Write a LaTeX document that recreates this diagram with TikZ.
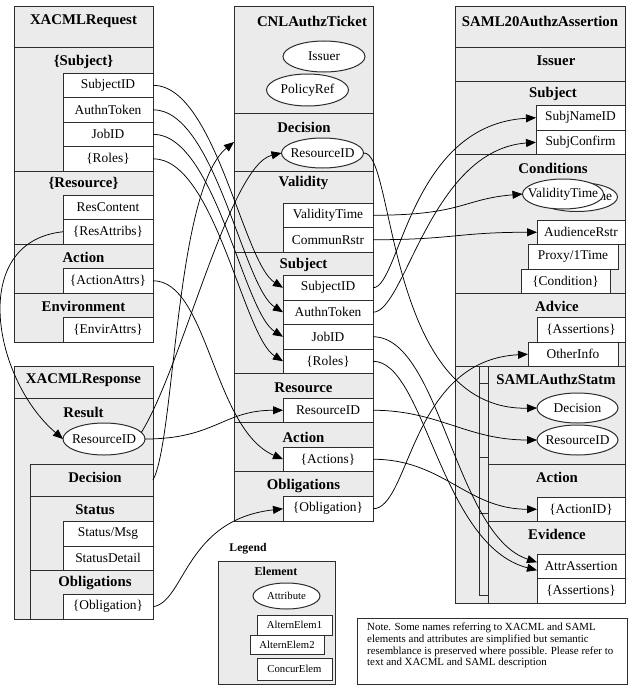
\documentclass[tikz,border=0pt]{standalone}
\usepackage{fontspec}
\setmainfont{Liberation Serif}
\usetikzlibrary{shapes.geometric,arrows.meta}
\definecolor{secgray}{RGB}{235,235,235}
\definecolor{edge}{RGB}{45,45,45}
\newcommand{\attrsize}{\fontsize{13.4}{15}\selectfont}
\newcommand{\hdrsize}{\bfseries\fontsize{14.8}{17}\selectfont}
\newcommand{\legsize}{\fontsize{10.7}{12}\selectfont}
\newcommand{\notesize}{\fontsize{10.9}{11.6}\selectfont}

\begin{document}
\begin{tikzpicture}[x=1pt, y=-1pt,
    sect/.style={rectangle, draw=edge, fill=secgray, line width=1pt, inner sep=0pt, outer sep=0pt, anchor=north west},
    hdr/.style={font=\hdrsize, inner sep=0pt},
    attr/.style={rectangle, draw=edge, fill=white, line width=1pt, minimum width=90pt, minimum height=24.5pt, inner sep=0pt, outer sep=0pt, anchor=north west, font=\attrsize},
    attrell/.style={ellipse, draw=edge, fill=white, line width=1pt, minimum width=82pt, minimum height=31pt, inner xsep=-9pt, inner ysep=0pt, outer sep=0pt, font=\attrsize},
    link/.style={-{Triangle[length=10pt,width=8pt]}, line width=0.75pt}]
  \useasboundingbox (0,0) rectangle (631,693);
  \fill[white] (0,0) rectangle (631,693);

  % XACMLRequest
  \node[sect, minimum width=139pt, minimum height=41pt] (reqtop) at (14,7) {};
  \node[hdr] (reqttl) at (83.5,21) {XACMLRequest};
  \node[sect, minimum width=139pt, minimum height=123pt] (reqsubj) at (14,48) {};
  \node[hdr] (reqsubjhd) at (83.5,62) {\{Subject\}};
  \node[attr] (reqsid) at (63,73) {SubjectID};
  \node[attr] (reqauth) at (63,97.5) {AuthnToken};
  \node[attr] (reqjob) at (63,122) {JobID};
  \node[attr] (reqroles) at (63,146.5) {\{Roles\}};
  \node[sect, minimum width=139pt, minimum height=73pt] (reqres) at (14,171) {};
  \node[hdr] (reqreshd) at (83.5,183) {\{Resource\}};
  \node[attr] (reqrescont) at (63,195) {ResContent};
  \node[attr] (reqresattr) at (63,219.5) {\{ResAttribs\}};
  \node[sect, minimum width=139pt, minimum height=49pt] (reqact) at (14,244) {};
  \node[hdr] (reqacthd) at (83.5,257) {Action};
  \node[attr] (reqactattr) at (63,268.5) {\{ActionAttrs\}};
  \node[sect, minimum width=139pt, minimum height=49pt] (reqenv) at (14,293) {};
  \node[hdr] (reqenvhd) at (83.5,306) {Environment};
  \node[attr] (reqenvattr) at (63,317.5) {\{EnvirAttrs\}};

  % XACMLResponse
  \node[sect, minimum width=139pt, minimum height=32pt] (rsptop) at (14,366) {};
  \node[hdr] (rspttl) at (83.5,380) {XACMLResponse};
  \node[sect, minimum width=139pt, minimum height=221pt] (rspres) at (14,398) {};
  \node[hdr] (rspreshd) at (83.5,412) {Result};
  \node[attrell, minimum height=32pt] (rspresid) at (104,439) {ResourceID};
  \node[sect, minimum width=123pt, minimum height=32pt] (rspdec) at (30,464) {};
  \node[hdr] (rspdechd) at (95,477) {Decision};
  \node[sect, minimum width=123pt, minimum height=74pt] (rspstat) at (30,496) {};
  \node[hdr] (rspstathd) at (95,510) {Status};
  \node[attr] (rspmsg) at (63,521.5) {Status/Msg};
  \node[attr] (rspdetail) at (63,546) {StatusDetail};
  \node[sect, minimum width=123pt, minimum height=49pt] (rspobl) at (30,570) {};
  \node[hdr] (rspoblhd) at (95,583) {Obligations};
  \node[attr] (rspoblig) at (63,594.5) {\{Obligation\}};

  % CNLAuthzTicket
  \node[sect, minimum width=139pt, minimum height=106pt] (cnltop) at (234,7) {};
  \node[hdr] (cnlttl) at (312,21) {CNLAuthzTicket};
  \node[attrell] (cnliss) at (324,56.5) {Issuer};
  \node[attrell, minimum height=32pt] (cnlpol) at (307.5,90) {PolicyRef};
  \node[sect, minimum width=139pt, minimum height=58pt] (cnldec) at (234,113) {};
  \node[hdr] (cnldechd) at (304,127) {Decision};
  \node[attrell, minimum height=30pt] (cnldecres) at (322.5,153) {ResourceID};
  \node[sect, minimum width=139pt, minimum height=81pt] (cnlval) at (234,171) {};
  \node[hdr] (cnlvalhd) at (303.5,183) {Validity};
  \node[attr] (cnlvaltime) at (283,203) {ValidityTime};
  \node[attr] (cnlcomm) at (283,227.5) {CommunRstr};
  \node[sect, minimum width=139pt, minimum height=121.5pt] (cnlsubj) at (234,252) {};
  \node[hdr] (cnlsubjhd) at (303.5,265) {Subject};
  \node[attr] (cnlsid) at (283,275.5) {SubjectID};
  \node[attr] (cnlauth) at (283,300) {AuthnToken};
  \node[attr] (cnljob) at (283,324.5) {JobID};
  \node[attr] (cnlroles) at (283,349) {\{Roles\}};
  \node[sect, minimum width=139pt, minimum height=49pt] (cnlres) at (234,373.5) {};
  \node[hdr] (cnlreshd) at (303.5,388) {Resource};
  \node[attr] (cnlresid) at (283,398) {ResourceID};
  \node[sect, minimum width=139pt, minimum height=49pt] (cnlact) at (234,422.5) {};
  \node[hdr] (cnlacthd) at (303.5,437) {Action};
  \node[attr] (cnlactions) at (283,447) {\{Actions\}};
  \node[sect, minimum width=139pt, minimum height=49.5pt] (cnlobl) at (234,471.5) {};
  \node[hdr] (cnloblhd) at (303.5,486) {Obligations};
  \node[attr] (cnloblig) at (283,496.5) {\{Obligation\}};

  % SAML20AuthzAssertion
  \node[sect, minimum width=170pt, minimum height=41pt] (samltop) at (455,7) {};
  \node[hdr] (samlttl) at (540,21) {SAML20AuthzAssertion};
  \node[sect, minimum width=170pt, minimum height=33pt] (samliss) at (455,48) {};
  \node[hdr] (samlisshd) at (556,61) {Issuer};
  \node[sect, minimum width=170pt, minimum height=73.5pt] (samlsubj) at (455,81) {};
  \node[hdr] (samlsubjhd) at (553,94) {Subject};
  \node[attr, minimum width=89pt] (samlnameid) at (536,105.5) {SubjNameID};
  \node[attr, minimum width=89pt] (samlconf) at (536,130) {SubjConfirm};
  \node[sect, minimum width=170pt, minimum height=139pt] (samlcond) at (455,154.5) {};
  \node[hdr] (samlcondhd) at (553,168) {Conditions};
  \node[attrell, minimum width=81pt, minimum height=29pt] (samlvalback) at (577,197) {ValidityTime};
  \node[attrell, minimum width=81pt, minimum height=30pt] (samlvaltime) at (563,194) {ValidityTime};
  \node[attr, minimum width=88pt] (samlaud) at (537,220) {AudienceRstr};
  \node[attr] (samlproxy) at (528,244.5) {Proxy/1Time};
  \node[attr, minimum width=89pt] (samlcondn) at (521,269) {\{Condition\}};
  \node[sect, minimum width=170pt, minimum height=73pt] (samladv) at (455,293.5) {};
  \node[hdr] (samladvhd) at (557,306) {Advice};
  \node[attr, minimum width=88pt] (samladvass) at (537,317.5) {\{Assertions\}};
  \node[attr] (samlother) at (528,342) {OtherInfo};
  \node[sect, minimum width=170pt, minimum height=236.5pt] (samlstm) at (455,366.5) {};
  \draw[sect] (479,366.5) rectangle (625,595);
  \draw[edge, line width=1pt] (479,383) -- (488,383) (479,457) -- (488,457) (479,513) -- (488,513);
  \node[sect, minimum width=137pt, minimum height=97.5pt] (samlauthz) at (488,366.5) {};
  \node[hdr] (samlauthzhd) at (556,379) {SAMLAuthzStatm};
  \node[attrell, minimum width=81pt, minimum height=30pt] (samldec) at (577.5,408) {Decision};
  \node[attrell, minimum width=81pt, minimum height=30pt] (samlresid) at (577.5,440) {ResourceID};
  \node[sect, minimum width=137pt, minimum height=57pt] (samlact) at (488,464) {};
  \node[hdr] (samlacthd) at (557,477) {Action};
  \node[attr, minimum width=88pt] (samlactid) at (537,497) {\{ActionID\}};
  \node[sect, minimum width=137pt, minimum height=82pt] (samlevid) at (488,521) {};
  \node[hdr] (samlevidhd) at (557,534) {Evidence};
  \node[attr, minimum width=88pt] (samlattrass) at (537,554) {AttrAssertion};
  \node[attr, minimum width=88pt] (samlevass) at (537,578.5) {\{Assertions\}};

  % Legend
  \node[font=\bfseries\fontsize{11.7}{13}\selectfont, inner sep=0pt] (legttl) at (248,549) {Legend};
  \node[sect, minimum width=117pt, minimum height=123pt] (legbox) at (218,561) {};
  \node[font=\bfseries\fontsize{12}{14}\selectfont, inner sep=0pt] (legelem) at (276,571) {Element};
  \node[attrell, minimum width=67pt, minimum height=26pt, font=\legsize] (legattr) at (286.5,596) {Attribute};
  \node[attr, minimum width=75pt, minimum height=20pt, font=\legsize] (legalt1) at (257,615) {AlternElem1};
  \node[attr, minimum width=74pt, minimum height=19pt, font=\legsize] (legalt2) at (250,635) {AlternElem2};
  \node[attr, minimum width=75pt, minimum height=22pt, font=\legsize] (legconc) at (257,658) {ConcurElem};

  % Note
  \node[rectangle, draw=edge, line width=0.8pt, fill=white, anchor=north west, minimum width=270pt, minimum height=66pt] (noteframe) at (357,618) {};
  \node[anchor=north west, align=left, font=\notesize, inner sep=0pt] (notetxt) at (367,623) {Note. Some names referring to XACML and SAML\\elements and attributes are simplified but semantic\\resemblance is preserved where possible. Please refer to\\text and XACML and SAML description};

  % XACML -> CNL
  \draw[link] (reqsid.east) .. controls +(62,0) and +(-40,-25) .. (cnlsid.west);
  \draw[link] (reqauth.east) .. controls +(62,0) and +(-40,-25) .. (cnlauth.west);
  \draw[link] (reqjob.east) .. controls +(62,0) and +(-40,-25) .. (cnljob.west);
  \draw[link] (reqroles.east) .. controls +(62,0) and +(-40,-25) .. (cnlroles.west);
  \draw[link] (reqresattr.west) .. controls +(-95,10) and +(-70,-60) .. (rspresid.west);
  \draw[link] (reqactattr.east) .. controls +(55,0) and +(-70,-30) .. (cnlactions.west);
  \draw[link] (rspresid.east) .. controls +(70,0) and +(-60,0) .. (cnlresid.west);
  \draw[link] (rspresid.10) .. controls +(41,-66) and +(-52,12) .. (cnldecres.west);
  \draw[link] (rspdec.east) .. controls +(22,-40) and +(-59,48) .. (cnldec.west);
  \draw[link] (rspoblig.east) .. controls +(32,-5) and +(-98,11) .. (cnloblig.west);

  % CNL -> SAML
  \draw[link] (cnlvaltime.east) .. controls +(90,0) and +(-60,5) .. (samlvaltime.west);
  \draw[link] (cnlcomm.east) .. controls +(80,0) and +(-80,0) .. (samlaud.west);
  \draw[link] (cnlsid.east) .. controls +(27,0) and +(-127,7) .. (samlnameid.west);
  \draw[link] (cnlauth.east) .. controls +(32,0) and +(-106,8) .. (samlconf.west);
  \draw[link] (cnljob.east) .. controls +(67,0) and +(-82,-27) .. ([yshift=4pt]samlattrass.west);
  \draw[link] (cnlroles.east) .. controls +(52,0) and +(-97,-25) .. ([yshift=-4pt]samlattrass.west);
  \draw[link] (cnlresid.east) .. controls +(65,0) and +(-70,0) .. (samlresid.west);
  \draw[link] (cnlactions.east) .. controls +(70,0) and +(-70,0) .. (samlactid.west);
  \draw[link] (cnloblig.east) .. controls +(37,0) and +(-118,6) .. (samlother.west);
  \draw[link] (cnldecres.east) .. controls +(32,-3) and +(-152,3) .. (samldec.west);
\end{tikzpicture}
\end{document}
